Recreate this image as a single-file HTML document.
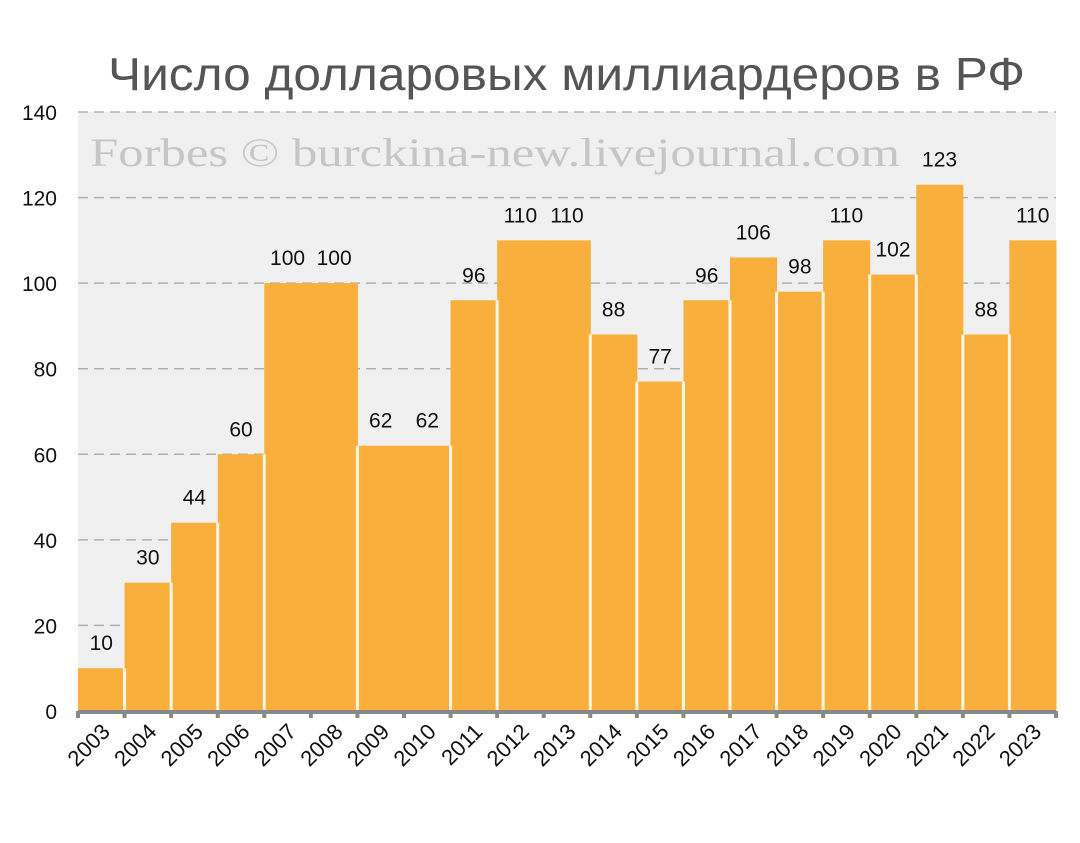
<!DOCTYPE html>
<html><head><meta charset="utf-8"><style>
body{margin:0;background:#fff;}
svg{display:block;font-family:"Liberation Sans",sans-serif;}
</style></head><body>
<svg id="c" width="1080" height="843">
<text x="108" y="90" textLength="917" lengthAdjust="spacingAndGlyphs" font-family="Liberation Sans, sans-serif" font-size="46" fill="#555">Число долларовых миллиардеров в РФ</text>
<g id="plot"></g>
</svg>
<script>
const years=["2003","2004","2005","2006","2007","2008","2009","2010","2011","2012","2013","2014","2015","2016","2017","2018","2019","2020","2021","2022","2023"];
const counts=[10,30,44,60,100,100,62,62,96,110,110,88,77,96,106,98,110,102,123,88,110];
const yTicks=[0,20,40,60,80,100,120,140];
const NS="http://www.w3.org/2000/svg";
const L=78,R=1056,T=112,B=711,ymax=140;
const bw=(R-L)/years.length;
const xs=i=>L+i*bw;
const ys=v=>B-(v/ymax)*(B-T);
const g=document.getElementById('plot');
function mk(t,a){const e=document.createElementNS(NS,t);for(const k in a)e.setAttribute(k,a[k]);g.appendChild(e);return e;}
let bg=mk('rect',{x:L,y:T,width:R-L,height:B-T,fill:'#f0f0f0'});


let wm=mk('text',{x:90,y:166,'font-family':'Liberation Serif, serif','font-size':40,fill:'#c6c6c6',textLength:810,lengthAdjust:'spacingAndGlyphs'});
wm.textContent='Forbes © burckina-new.livejournal.com';


yTicks.forEach(v=>{
  if(v>0){let l=mk('line',{x1:L,x2:R,y1:ys(v),y2:ys(v),stroke:'#b0b0b0','stroke-width':1.5,'stroke-dasharray':'10,6'});
  
  }
  let t=mk('text',{x:57,y:ys(v)+8,'text-anchor':'end','font-size':21,fill:'#111'});
  t.textContent=v;
  
  
});
counts.forEach((v,i)=>{
  let r=mk('rect',{x:xs(i),y:ys(v),width:bw+0.5,height:B-ys(v),fill:'#f9af3b'});
  
  
});
counts.forEach((v,i)=>{
  if(i>0 && counts[i-1]!==v){
    let s=mk('line',{x1:xs(i),x2:xs(i),y1:ys(Math.min(v,counts[i-1])),y2:B,stroke:'#fff6e6','stroke-width':3});
    
    
  }
  let t=mk('text',{x:xs(i)+bw/2,y:ys(v)-18,'text-anchor':'middle','font-size':21,fill:'#111'});
  t.textContent=v;
  
  
  let lx=xs(i)+bw/2+10,ly=B+22;
  let yl=mk('text',{x:lx,y:ly,'text-anchor':'end','font-size':22,fill:'#111',transform:`rotate(-45 ${lx} ${ly})`});
  yl.textContent=years[i];
  
  
});
let ax=mk('line',{x1:L,x2:R,y1:B+1,y2:B+1,stroke:'#888','stroke-width':4});


for(let i=0;i<=years.length;i++){
  let tk=mk('line',{x1:xs(i),x2:xs(i),y1:B,y2:B+7,stroke:'#888','stroke-width':4});
  
  
}
</script>
</body></html>
